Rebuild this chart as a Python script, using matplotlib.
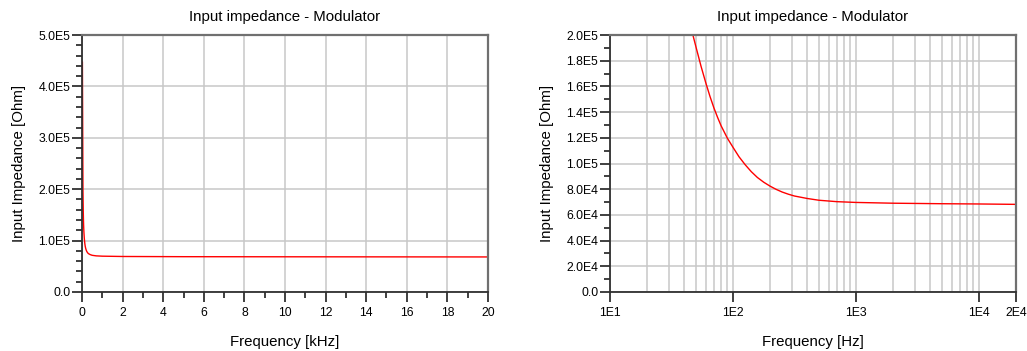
import numpy as np
import matplotlib
matplotlib.use("Agg")
import matplotlib.pyplot as plt
from matplotlib.ticker import FixedLocator, MultipleLocator, FuncFormatter, NullFormatter

plt.rcParams['font.family'] = ['Liberation Sans', 'DejaVu Sans']

# frequency sweep [Hz] and input impedance [Ohm]
freq_hz = [20, 47.2, 50, 55, 60, 65, 70, 75, 80, 90, 100, 112, 126, 141,
           158, 178, 200, 224, 251, 282, 316, 400, 500, 700, 1000, 2000,
           5000, 10000, 20000]
z_ohm = [4.47e5, 2.0e5, 1.907e5, 1.756e5, 1.630e5, 1.522e5, 1.432e5,
         1.358e5, 1.294e5, 1.197e5, 1.126e5, 1.052e5, 0.989e5, 0.936e5,
         0.891e5, 0.854e5, 0.824e5, 0.799e5, 0.778e5, 0.761e5, 0.747e5,
         0.728e5, 0.714e5, 0.703e5, 0.697e5, 0.691e5, 0.687e5, 0.685e5,
         0.682e5]

title = "Input impedance - Modulator"
ylabel = "Input Impedance [Ohm]"
log_ticks = [10, 100, 1000, 10000, 20000]
log_labels = ["1E1", "1E2", "1E3", "1E4", "2E4"]


def sci_fmt(v, pos=None):
    if v == 0:
        return "0.0"
    e = int(np.floor(np.log10(abs(v)) + 1e-9))
    return "{0:.1f}E{1}".format(v / 10 ** e, e)


def style(ax):
    for s in ["top", "right"]:
        ax.spines[s].set_color("#707070")
        ax.spines[s].set_linewidth(1.6)
    for s in ["left", "bottom"]:
        ax.spines[s].set_color("#303030")
        ax.spines[s].set_linewidth(1.3)
    ax.tick_params(which="major", direction="out", length=7, width=1.3,
                   color="#303030", labelsize=8.8, pad=1.5)
    ax.tick_params(which="minor", direction="out", length=4.2, width=1.3,
                   color="#303030")
    ax.tick_params(axis="x", which="major", pad=4)
    ax.tick_params(top=False, right=False)
    ax.grid(True, which="major", color="#c8c8c8", linewidth=1.1)
    ax.set_axisbelow(True)
    ax.set_title(title, fontsize=10.8, pad=10)
    ax.set_ylabel(ylabel, fontsize=10.8, labelpad=9)


fig = plt.figure(figsize=(10.27, 3.51), dpi=100)
ax1 = fig.add_axes([82 / 1027, 59 / 351, 406 / 1027, 257 / 351])
ax2 = fig.add_axes([610 / 1027, 59 / 351, 406 / 1027, 257 / 351])

# linear plot, kHz
ax1.plot(np.array(freq_hz) / 1000.0, z_ohm, color="#ff0000", linewidth=1.0)
ax1.set_xlim(0, 20)
ax1.set_ylim(0, 5e5)
ax1.xaxis.set_major_locator(MultipleLocator(2))
ax1.xaxis.set_minor_locator(MultipleLocator(1))
ax1.yaxis.set_major_locator(MultipleLocator(1e5))
ax1.yaxis.set_minor_locator(MultipleLocator(2e4))
ax1.yaxis.set_major_formatter(FuncFormatter(sci_fmt))
style(ax1)
ax1.set_xlabel("Frequency [kHz]", fontsize=10.8, labelpad=11)

# log plot, Hz
ax2.plot(freq_hz, z_ohm, color="#ff0000", linewidth=1.0)
ax2.set_xscale("log")
ax2.set_xlim(10, 20000)
ax2.set_ylim(0, 2e5)
ax2.xaxis.set_major_locator(FixedLocator(log_ticks))
ax2.xaxis.set_major_formatter(FuncFormatter(lambda v, p: log_labels[p] if p is not None and p < len(log_labels) else ""))
minor_pos = [m * 10 ** d for d in range(1, 4) for m in range(2, 10)]
ax2.xaxis.set_minor_locator(FixedLocator(minor_pos))
ax2.xaxis.set_minor_formatter(NullFormatter())
ax2.yaxis.set_major_locator(MultipleLocator(2e4))
ax2.yaxis.set_minor_locator(MultipleLocator(1e4))
ax2.yaxis.set_major_formatter(FuncFormatter(sci_fmt))
style(ax2)
ax2.tick_params(axis="x", which="minor", length=0)
ax2.grid(True, axis="x", which="minor", color="#c8c8c8", linewidth=1.1)
ax2.set_xlabel("Frequency [Hz]", fontsize=10.8, labelpad=11)

fig.savefig("out.png", dpi=100)
